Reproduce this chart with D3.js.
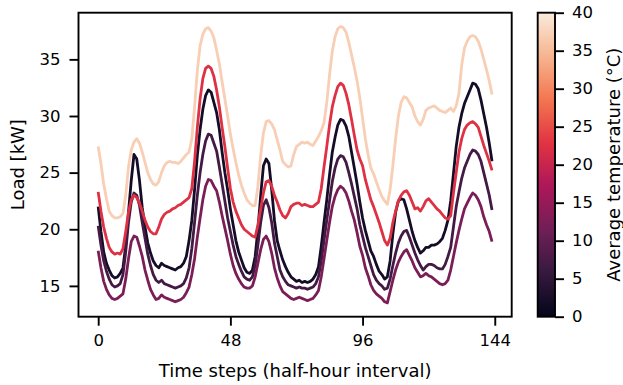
<!DOCTYPE html>
<html>
<head>
<meta charset="utf-8">
<script src="https://cdn.jsdelivr.net/npm/d3@7"></script>
<style>
  body { margin: 0; background: #fff; }
  text { font-family: "DejaVu Sans", sans-serif; fill: #000; }
</style>
</head>
<body>
<div id="chart"></div>
<script>
// average temperature (deg C) of each profile, same order as the load arrays
var temps = [2, 7, 12.5, 22.5, 37];

// load [kW] per half-hour step, 3 days
var load2C = [22.0,19.8,18.0,17.0,16.4,15.9,15.7,15.8,16.1,16.6,18.6,21.5,24.3,26.6,26.2,24.3,21.9,20.2,18.8,17.9,
  17.2,16.8,16.6,17.0,16.8,16.7,16.6,16.5,16.4,16.6,16.7,17.0,17.6,19.0,20.8,23.5,26.5,28.8,30.6,31.8,
  32.3,32.1,31.2,30.3,28.8,26.8,25.0,23.5,21.8,20.4,19.0,18.0,17.3,16.6,16.2,16.1,16.4,17.6,20.0,23.0,
  25.6,26.2,25.8,23.5,20.8,19.0,18.1,17.3,16.7,16.2,15.8,15.6,15.4,15.5,15.3,15.4,15.3,15.4,15.6,16.0,
  16.7,18.5,20.6,22.6,24.8,26.8,28.1,29.2,29.7,29.6,29.1,28.2,26.8,25.4,24.0,22.4,21.0,19.9,19.0,18.1,
  17.6,16.9,16.3,16.0,15.6,15.8,17.2,19.6,21.5,22.5,22.7,22.6,21.8,20.8,19.8,19.0,18.4,17.9,18.1,18.4,
  18.4,18.6,18.6,18.7,18.9,19.2,19.9,20.8,22.5,24.9,27.3,29.0,30.2,31.1,31.7,32.3,32.9,32.8,32.4,31.4,
  30.2,29.0,27.6,26.0];
var load7C = [20.3,18.6,17.2,16.3,15.6,15.1,14.9,15.0,15.2,16.0,18.0,20.6,22.4,23.2,23.0,22.1,20.6,19.2,17.8,16.8,
  16.0,15.5,15.3,15.5,15.2,15.1,15.0,14.9,14.8,14.9,15.0,15.2,15.7,16.6,18.3,20.6,23.0,25.0,26.6,27.8,
  28.4,28.3,27.6,26.9,25.5,24.0,22.5,21.0,19.8,18.6,17.6,16.9,16.3,15.8,15.6,15.5,15.8,16.8,18.6,20.6,
  22.1,22.6,21.9,20.6,18.8,17.6,16.4,15.8,15.4,15.1,15.0,14.9,14.8,14.9,14.8,14.8,14.7,14.8,14.9,15.2,
  15.8,17.2,19.0,20.8,22.5,24.2,25.4,26.2,26.5,26.4,25.9,25.0,24.0,22.9,21.8,20.4,19.4,18.4,17.6,16.8,
  16.0,15.5,15.2,15.0,14.7,14.8,15.6,16.8,17.9,18.8,19.4,19.8,19.9,19.3,18.6,17.9,17.3,16.8,16.4,16.7,
  16.9,16.9,16.8,16.6,16.5,16.5,16.9,17.6,18.4,20.2,22.0,23.3,24.5,25.4,26.0,26.6,27.0,26.9,26.6,26.0,
  25.0,24.0,23.0,21.7];
var load12C = [18.1,16.6,15.4,14.7,14.2,13.9,13.8,13.9,14.1,14.3,15.6,17.4,18.9,19.4,19.3,18.5,17.6,16.4,15.5,14.7,
  14.2,13.8,13.9,14.2,14.0,13.9,13.8,13.7,13.6,13.7,13.8,14.0,14.4,14.9,16.0,17.4,19.3,21.0,22.6,23.8,
  24.4,24.3,23.8,23.4,22.4,21.2,20.1,19.0,17.8,16.8,16.1,15.6,15.2,14.9,14.8,14.8,15.0,15.8,17.0,18.2,
  19.1,19.4,18.9,17.9,16.6,15.7,15.0,14.5,14.3,14.1,13.9,13.8,13.9,14.0,13.9,13.8,13.7,13.8,13.9,14.2,
  14.6,15.8,17.4,19.0,20.6,22.0,22.9,23.5,23.8,23.6,23.2,22.5,21.6,20.8,19.7,18.5,17.7,16.6,15.9,15.1,
  14.6,14.3,14.1,13.9,13.6,13.5,14.5,15.5,16.4,17.1,17.6,18.0,18.2,17.7,17.2,16.6,16.2,15.8,15.9,16.1,
  15.9,15.8,15.6,15.4,15.2,15.1,15.2,15.5,16.4,17.6,18.8,19.9,20.9,21.8,22.3,22.8,23.2,23.0,22.6,22.0,
  21.1,20.4,19.8,18.9];
var load22C = [23.3,21.6,20.2,19.2,18.4,18.0,17.8,17.9,17.8,18.3,19.8,21.5,22.6,23.0,22.8,22.3,21.6,20.8,20.2,19.8,
  19.6,19.6,20.2,20.9,21.3,21.5,21.6,21.8,21.9,22.1,22.2,22.4,22.6,22.8,23.6,26.0,29.0,31.5,33.3,34.2,
  34.4,34.2,33.5,32.3,30.8,29.0,27.3,25.4,23.6,22.4,21.6,21.0,20.4,20.0,19.8,19.6,19.4,19.3,20.4,21.8,
  23.2,24.2,24.3,23.8,23.0,22.4,21.7,21.2,21.0,21.4,22.0,22.2,22.3,22.3,22.1,22.2,22.1,22.0,22.0,22.2,
  22.4,23.6,25.5,27.3,29.2,30.8,31.8,32.6,32.9,32.7,32.0,31.0,29.7,28.3,27.0,26.2,25.6,24.4,23.5,22.6,
  22.0,21.3,20.6,19.8,19.0,18.6,19.2,20.6,21.6,22.5,23.0,23.3,23.4,23.0,22.4,21.8,21.9,21.6,22.0,22.5,
  22.7,22.4,22.1,21.8,21.6,21.3,21.0,20.9,21.2,23.2,25.0,26.8,28.0,28.8,29.2,29.4,29.5,29.3,29.0,28.2,
  27.4,26.7,26.0,25.2];
var load37C = [27.3,25.8,24.0,22.7,21.6,21.2,21.0,21.0,21.1,21.4,23.0,25.5,27.0,27.7,28.0,27.6,26.8,25.9,25.0,24.4,
  24.0,23.9,24.2,25.0,25.6,25.9,26.0,25.9,25.9,25.8,26.0,26.3,26.6,26.8,28.0,30.8,34.0,36.2,37.2,37.7,
  37.8,37.5,36.9,35.8,34.6,33.0,31.5,30.0,28.4,27.1,25.9,24.8,23.9,23.2,22.6,22.3,22.1,22.1,23.8,26.5,
  28.5,29.5,29.6,29.3,28.8,27.9,27.0,26.0,25.7,25.5,25.6,26.6,27.3,27.5,27.7,27.6,27.7,27.5,27.4,27.8,
  28.2,28.7,29.4,31.2,33.6,35.7,37.0,37.7,37.9,37.8,37.4,36.5,35.4,34.3,33.1,31.6,29.8,28.0,26.6,25.4,
  24.9,24.2,23.5,22.9,22.5,22.2,23.5,25.6,28.0,30.0,31.2,31.7,31.6,31.2,30.8,30.0,29.5,29.2,29.7,30.5,
  30.7,30.8,30.9,30.7,30.5,30.4,30.3,30.5,30.7,30.4,30.9,32.0,34.5,36.0,36.6,37.0,37.1,37.0,36.6,35.9,
  35.0,34.1,33.1,31.9];

var xTicks = [0, 48, 96, 144];
var yTicks = [15, 20, 25, 30, 35];
var cbTicks = [0, 5, 10, 15, 20, 25, 30, 35, 40];

var series = [load2C, load7C, load12C, load22C, load37C];

var width = 623, height = 385;
var plotL = 78.5, plotR = 511.7, plotT = 12.7, plotB = 316.7;

// seaborn "rocket" colormap approximated from sampled stops
var rocketStops = ["#03051a", "#35193e", "#701f57", "#ad1759", "#e13342", "#f37651", "#f6b48f", "#faebdd"];
var rocket = d3.scaleLinear()
  .domain(d3.range(rocketStops.length).map(function(i) { return i / (rocketStops.length - 1); }))
  .range(rocketStops)
  .interpolate(d3.interpolateRgb);
var tempScale = d3.scaleLinear().domain([0, 40]).range([0, 1]);

var svg = d3.select("#chart").append("svg")
  .attr("width", width)
  .attr("height", height);

// scales with matplotlib-like 5% margins
var n = load2C.length;
var xPad = (n - 1) * 0.05;
var x = d3.scaleLinear().domain([-xPad, n - 1 + xPad]).range([plotL, plotR]);
var allVals = d3.merge(series);
var yMin = d3.min(allVals), yMax = d3.max(allVals), yPad = (yMax - yMin) * 0.05;
var y = d3.scaleLinear().domain([yMin - yPad, yMax + yPad]).range([plotB, plotT]);

var line = d3.line()
  .x(function(d, i) { return x(i); })
  .y(function(d) { return y(d); });

svg.selectAll("path.load")
  .data(series)
  .enter()
  .append("path")
  .attr("class", "load")
  .attr("d", line)
  .attr("fill", "none")
  .attr("stroke", function(d, i) { return rocket(tempScale(temps[i])); })
  .attr("stroke-width", 2.8)
  .attr("stroke-linejoin", "round");

// axes
var xAxis = d3.axisBottom(x).tickValues(xTicks).tickSize(9).tickPadding(9);
var yAxis = d3.axisLeft(y).tickValues(yTicks).tickSize(9).tickPadding(9);

svg.append("g").attr("transform", "translate(0," + plotB + ")").call(xAxis);
svg.append("g").attr("transform", "translate(" + plotL + ",0)").call(yAxis);

svg.selectAll(".domain").remove();
svg.selectAll(".tick line").attr("stroke", "#000").attr("stroke-width", 1.9);
svg.selectAll(".tick text")
  .style("font-family", "DejaVu Sans")
  .style("font-size", "16.5px");

svg.append("rect")
  .attr("x", plotL).attr("y", plotT)
  .attr("width", plotR - plotL).attr("height", plotB - plotT)
  .attr("fill", "none").attr("stroke", "#000").attr("stroke-width", 1.9);

svg.append("text")
  .attr("x", (plotL + plotR) / 2)
  .attr("y", 377)
  .attr("text-anchor", "middle")
  .style("font-size", "18px")
  .text("Time steps (half-hour interval)");

svg.append("text")
  .attr("transform", "translate(24," + ((plotT + plotB) / 2) + ") rotate(-90)")
  .attr("text-anchor", "middle")
  .style("font-size", "18px")
  .text("Load [kW]");

// colorbar
var cbLeft = 537.7, cbRight = 555;
var cb = d3.scaleLinear().domain([0, 40]).range([plotB, plotT]);

var grad = svg.append("defs").append("linearGradient")
  .attr("id", "rocketGrad")
  .attr("x1", "0").attr("y1", "1").attr("x2", "0").attr("y2", "0");
grad.selectAll("stop")
  .data(d3.range(0, 1.0001, 0.02))
  .enter()
  .append("stop")
  .attr("offset", function(d) { return d; })
  .attr("stop-color", function(d) { return rocket(d); });

svg.append("rect")
  .attr("x", cbLeft).attr("y", plotT)
  .attr("width", cbRight - cbLeft).attr("height", plotB - plotT)
  .attr("fill", "url(#rocketGrad)")
  .attr("stroke", "#000").attr("stroke-width", 1.9);

var cbAxis = d3.axisRight(cb).tickValues(cbTicks).tickSize(9).tickPadding(8);
var cbG = svg.append("g").attr("transform", "translate(" + cbRight + ",0)").call(cbAxis);
cbG.select(".domain").remove();
cbG.selectAll(".tick line").attr("stroke", "#000").attr("stroke-width", 1.9);
cbG.selectAll(".tick text")
  .style("font-family", "DejaVu Sans")
  .style("font-size", "16.5px");

svg.append("text")
  .attr("transform", "translate(620," + ((plotT + plotB) / 2) + ") rotate(-90)")
  .attr("text-anchor", "middle")
  .style("font-size", "18px")
  .text("Average temperature (°C)");
</script>
</body>
</html>
